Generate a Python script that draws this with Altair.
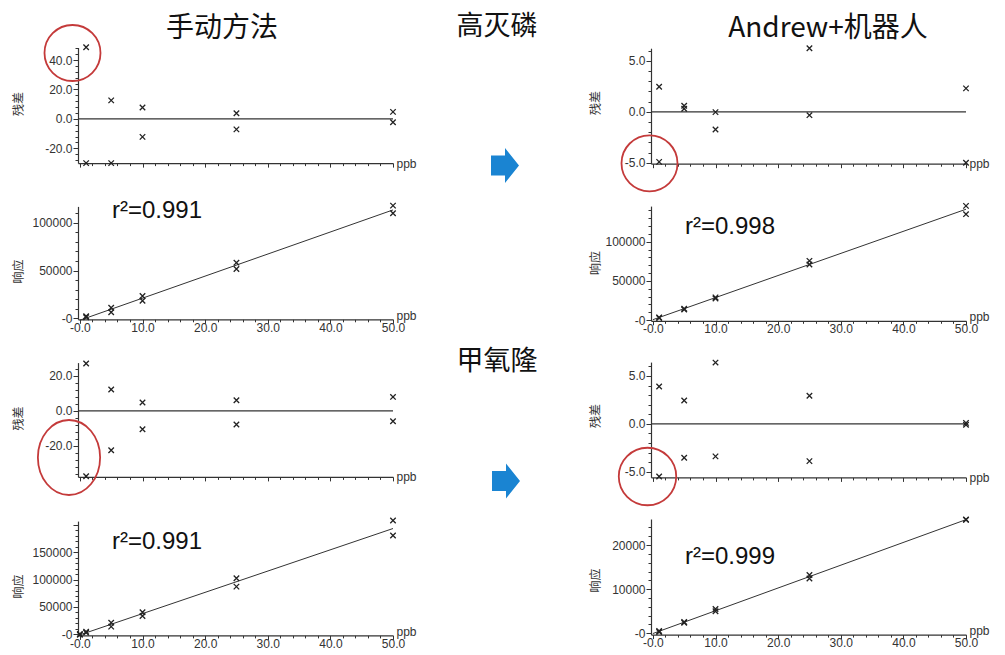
import altair as alt
import pandas as pd

# ---------------- data ----------------
CONC = [1, 1, 5, 5, 10, 10, 25, 25, 50, 50]

# 手动方法 – 高灭磷
RES_MAN_A = [48.7, -30.0, 12.6, -30.0, 7.8, -12.2, 3.9, -7.1, 4.8, -2.3]
RESP_MAN_A = [2200, 1200, 11100, 6300, 23300, 18400, 58200, 51600, 117800, 109800]
# 手动方法 – 甲氧隆
RES_MAN_B = [27.1, -37.3, 12.2, -22.5, 4.8, -10.5, 6.1, -7.8, 8.0, -5.9]
CONC_MAN_B_RESP = [0, 0, 1, 1, 5, 5, 10, 10, 25, 25, 50, 50]
RESP_MAN_B = [500, -800, 4800, 3000, 21300, 14000, 40300, 33500, 102600, 87200, 208000, 180600]
# Andrew+机器人 – 高灭磷
RES_AND_A = [2.46, -4.92, 0.6, 0.3, -0.03, -1.74, 6.24, -0.33, 2.3, -5.0]
RESP_AND_A = [3400, 2500, 14400, 13500, 28900, 27500, 75600, 71000, 145800, 135200]
# Andrew+机器人 – 甲氧隆
RES_AND_B = [3.9, -5.5, 2.44, -3.55, 6.4, -3.4, 2.93, -3.9, 0.1, -0.1]
RESP_AND_B = [500, 300, 2550, 2400, 5500, 5000, 13200, 12400, 25800, 25700]

TITLES = ["手动方法", "高灭磷", "Andrew+机器人", "甲氧隆"]
R2_LABELS = ["r²=0.991", "r²=0.991", "r²=0.998", "r²=0.999"]
Y_TITLE_RES = "残差"
Y_TITLE_RESP = "响应"
X_TITLE = "ppb"

X_TICKS = list(range(0, 51, 2))
X_MAJOR = 10

# ---------------- layout ----------------
DY = 6                      # extra top padding; layout y values below are given as (page y - 8)
W, H = 985, 641
X_DOMAIN = [-0.3, 50]
XR_LEFT = [70, 385]
XR_RIGHT = [643, 958]

AXIS_COLOR = "#333333"
LABEL_FONT = "Liberation Sans"
CJK_FONT = "Noto Sans CJK SC"
XSHAPE = "M-1,-1L1,1M-1,1L1,-1"


def tick_size(major, big=5, small=3):
    return {"condition": {"test": f"datum.value % {major} === 0", "value": big}, "value": small}


def make_panel(xs, ys, kind, xr, ydom, yr, yticks, ymajor, ylabel_max,
               ytitle, ytitle_x, ytitle_y):
    yr = [yr[0] - DY, yr[1] - DY]
    ytitle_y = ytitle_y - DY
    df = pd.DataFrame({"c": xs, "v": ys})
    if kind == "res":
        ylabel = (f"datum.value % {ymajor} === 0 ? (datum.value < 0 ? '-' + "
                  f"format(-datum.value, '.1f') : format(datum.value, '.1f')) : ''")
    else:
        ylabel = (f"datum.value === 0 ? '-0' : ((datum.value % {ymajor} === 0 && "
                  f"datum.value <= {ylabel_max}) ? format(datum.value, 'd') : '')")
    xlabel = ("datum.value === 0 ? '-0.0' : (datum.value % 10 === 0 ? "
              "format(datum.value, '.1f') : '')")
    xaxis = alt.Axis(
        orient="bottom", offset=yr[0] - H, values=X_TICKS,
        labels=(kind == "resp"), labelExpr=xlabel, labelFlush=False, labelOverlap=False,
        labelPadding=-1, tickSize=tick_size(X_MAJOR, 4, 2.5), grid=False,
        title=X_TITLE, titleX=xr[1] + 3, titleY=(0 if kind == "res" else -4),
        titleAlign="left", titleBaseline="middle", titleAngle=0,
    )
    yaxis = alt.Axis(
        orient="left", offset=-xr[0], values=yticks,
        labelExpr=ylabel, labelFlush=False, labelOverlap=False, labelPadding=1,
        tickSize=tick_size(ymajor), grid=False,
        title=ytitle, titleX=ytitle_x, titleY=ytitle_y, titleBaseline="middle",
        titleFont=CJK_FONT, titleFontSize=12, titleFontWeight="normal",
    )
    xscale = alt.Scale(domain=X_DOMAIN, range=xr, nice=False, zero=False)
    yscale = alt.Scale(domain=ydom, range=yr, nice=False, zero=False)
    X = alt.X("c:Q", scale=xscale, axis=xaxis)
    Y = alt.Y("v:Q", scale=yscale, axis=yaxis)

    pts = alt.Chart(df).mark_point(
        shape=XSHAPE, size=30, filled=False, color="#222222", strokeWidth=1.3, opacity=1
    ).encode(x=X, y=Y)
    layers = []
    if kind == "res":
        zdf = pd.DataFrame({"c": [X_DOMAIN[0]], "c2": [X_DOMAIN[1]], "v": [0]})
        rule = alt.Chart(zdf).mark_rule(color=AXIS_COLOR, strokeWidth=1.2).encode(
            x=X, x2="c2:Q", y=Y
        )
        layers.append(rule)
    else:
        line = alt.Chart(df).transform_regression("c", "v", extent=[0, 50]).mark_line(
            color=AXIS_COLOR, strokeWidth=1
        ).encode(x=X, y=Y)
        layers.append(line)
    layers.append(pts)
    return alt.layer(*layers)


def ticks(lo, hi, step):
    return list(range(lo, hi + 1, step))


panels = [
    make_panel(CONC, RES_MAN_A, "res", XR_LEFT, [-30, 48.5], [155.1, 39.5],
               ticks(-28, 48, 4), 20, 0, Y_TITLE_RES, -60, 95.5),
    make_panel(CONC, RESP_MAN_A, "resp", XR_LEFT, [-1000, 117000], [311.3, 198.4],
               ticks(0, 110000, 10000), 50000, 100000, Y_TITLE_RESP, -60, 263),
    make_panel(CONC, RES_MAN_B, "res", XR_LEFT, [-37.7, 27.6], [468.9, 354.6],
               ticks(-36, 24, 4), 20, 0, Y_TITLE_RES, -60, 410),
    make_panel(CONC_MAN_B_RESP, RESP_MAN_B, "resp", XR_LEFT, [-2000, 207000], [627.4, 513.1],
               ticks(0, 200000, 10000), 50000, 150000, Y_TITLE_RESP, -60, 578),
    make_panel(CONC, RES_AND_A, "res", XR_RIGHT, [-5.1, 6.25], [155.7, 40.2],
               ticks(-5, 6, 1), 5, 0, Y_TITLE_RES, -56, 94.5),
    make_panel(CONC, RESP_AND_A, "resp", XR_RIGHT, [-1000, 145500], [312.8, 198.1],
               ticks(0, 140000, 10000), 50000, 100000, Y_TITLE_RESP, -56, 254.5),
    make_panel(CONC, RES_AND_B, "res", XR_RIGHT, [-5.6, 6.45], [469.4, 354.1],
               ticks(-5, 6, 1), 5, 0, Y_TITLE_RES, -56, 407.5),
    make_panel(CONC, RESP_AND_B, "resp", XR_RIGHT, [-300, 25900], [626.6, 511.0],
               ticks(0, 24000, 2000), 10000, 20000, Y_TITLE_RESP, -56, 572),
]

one = pd.DataFrame({"a": [0]})

def text_at(txt, x, y, size, font, align="center"):
    return alt.Chart(one).mark_text(
        font=font, fontSize=size, color="#111111", align=align, baseline="middle"
    ).encode(x=alt.value(x), y=alt.value(y - DY), text=alt.value(txt))

annots = [
    text_at(TITLES[0], 214, 21, 28, CJK_FONT),
    text_at(TITLES[1], 489, 19, 27, CJK_FONT),
    text_at(TITLES[2], 820, 21, 28, CJK_FONT),
    text_at(TITLES[3], 489, 354, 27, CJK_FONT),
    text_at(R2_LABELS[0], 104, 203, 24, LABEL_FONT, "left"),
    text_at(R2_LABELS[1], 104, 534, 24, LABEL_FONT, "left"),
    text_at(R2_LABELS[2], 677, 219, 24, LABEL_FONT, "left"),
    text_at(R2_LABELS[3], 677, 549, 24, LABEL_FONT, "left"),
]

ARROW = "M-0.8,-0.57L0,-0.57L0,-1L0.8,0L0,1L0,0.57L-0.8,0.57Z"

def arrow_at(x, y):
    return alt.Chart(one).mark_point(
        shape=ARROW, size=1225, filled=True, color="#1a84d2", opacity=1, strokeWidth=0
    ).encode(x=alt.value(x), y=alt.value(y - DY))

ELLIPSE = "M-0.83,0A0.83,1,0,1,0,0.83,0A0.83,1,0,1,0,-0.83,0Z"

def ring(x, y, size, shape="circle"):
    return alt.Chart(one).mark_point(
        shape=shape, size=size, filled=False, color="#c43a3a", strokeWidth=1.8, opacity=1
    ).encode(x=alt.value(x), y=alt.value(y - DY))

annots += [
    arrow_at(497, 157.5),
    arrow_at(498, 473),
    ring(64.5, 45, 3136),
    ring(61, 449.5, 5625, ELLIPSE),
    ring(641.5, 155.3, 3136),
    ring(639.5, 468.5, 3300),
]

chart = alt.layer(*panels, *annots).resolve_scale(
    x="independent", y="independent"
).properties(
    width=W, height=H, autosize="none",
    padding={"top": DY, "left": 0, "right": 0, "bottom": 0},
).configure_view(stroke=None).configure_axis(
    domainColor=AXIS_COLOR, domainWidth=1.2, tickColor=AXIS_COLOR, tickWidth=1,
    labelFont=LABEL_FONT, labelFontSize=12, labelColor="#333333",
    titleFont=LABEL_FONT, titleFontSize=12, titleColor="#333333", titleFontWeight="normal",
)

chart.save("out.html", embed_options={"renderer": "svg", "actions": False})
